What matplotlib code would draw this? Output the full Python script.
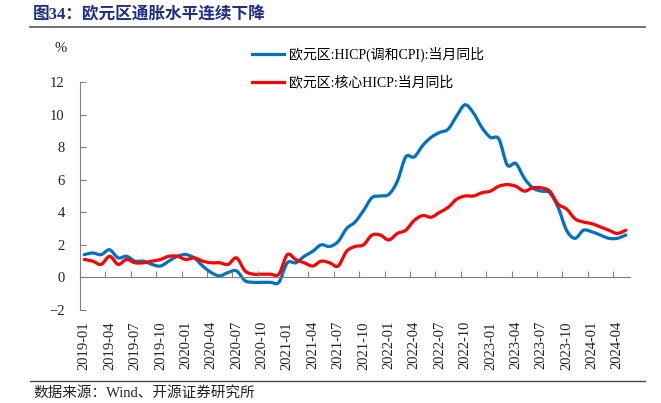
import matplotlib
matplotlib.use('Agg')
import matplotlib.pyplot as plt
from matplotlib.lines import Line2D
from matplotlib.path import Path
from matplotlib.patches import PathPatch
import pandas as pd

# monthly data, 2019-01 .. 2024-05
months = pd.date_range('2019-01-01', periods=65, freq='MS').strftime('%Y-%m').tolist()

hicp = [1.4, 1.5, 1.4, 1.7, 1.2, 1.3, 1.0, 1.0, 0.8, 0.7, 1.0, 1.3,
        1.4, 1.2, 0.7, 0.3, 0.1, 0.3, 0.4, -0.2, -0.3, -0.3, -0.3, -0.3,
        0.9, 0.9, 1.3, 1.6, 2.0, 1.9, 2.2, 3.0, 3.4, 4.1, 4.9, 5.0,
        5.1, 5.9, 7.4, 7.4, 8.1, 8.6, 8.9, 9.1, 9.9, 10.6, 10.1, 9.2,
        8.6, 8.5, 6.9, 7.0, 6.1, 5.5, 5.3, 5.2, 4.3, 2.9, 2.4, 2.9,
        2.8, 2.6, 2.4, 2.4, 2.6]

core = [1.1, 1.0, 0.8, 1.3, 0.8, 1.1, 0.9, 0.9, 1.0, 1.1, 1.3, 1.3,
        1.1, 1.2, 1.0, 0.9, 0.9, 0.8, 1.2, 0.4, 0.2, 0.2, 0.2, 0.2,
        1.4, 1.1, 0.9, 0.7, 1.0, 0.9, 0.7, 1.6, 1.9, 2.0, 2.6, 2.6,
        2.3, 2.7, 2.9, 3.5, 3.8, 3.7, 4.0, 4.3, 4.8, 5.0, 5.0, 5.2,
        5.3, 5.6, 5.7, 5.6, 5.3, 5.5, 5.5, 5.3, 4.5, 4.2, 3.6, 3.4,
        3.3, 3.1, 2.9, 2.7, 2.9]

series_names = ['欧元区:HICP(调和CPI):当月同比', '欧元区:核心HICP:当月同比']
series_colors = ['#0070C0', '#FF0000']
y_ticks = [-2, 0, 2, 4, 6, 8, 10, 12]

FONT = ['Liberation Serif', 'Noto Sans CJK SC']
plt.rcParams['font.family'] = FONT


def smooth_path(xs, ys):
    """Excel-style smoothed line: cubic bezier through every point."""
    pts = list(zip(xs, ys))
    verts = [pts[0]]
    codes = [Path.MOVETO]
    n = len(pts)
    for i in range(n - 1):
        p0 = pts[max(i - 1, 0)]
        p1 = pts[i]
        p2 = pts[i + 1]
        p3 = pts[min(i + 2, n - 1)]
        c1 = (p1[0] + (p2[0] - p0[0]) / 6, p1[1] + (p2[1] - p0[1]) / 6)
        c2 = (p2[0] - (p3[0] - p1[0]) / 6, p2[1] - (p3[1] - p1[1]) / 6)
        verts += [c1, c2, p2]
        codes += [Path.CURVE4] * 3
    return Path(verts, codes)


W, H = 661, 403
fig = plt.figure(figsize=(W / 100, H / 100), dpi=100)
ax = fig.add_axes([80 / W, 1 - 310 / H, 550 / W, 228 / H])

x = list(range(len(months)))
handles = []
for vals, name, col in zip([hicp, core], series_names, series_colors):
    ax.add_patch(PathPatch(smooth_path(x, vals), fill=False, edgecolor=col,
                           lw=2.3, joinstyle='round', capstyle='round'))
    handles.append(Line2D([], [], color=col, lw=2.3, label=name))

ax.set_xlim(-0.5, len(months) - 0.5)
ax.set_ylim(-2, 12)
ax.set_yticks(y_ticks)
ax.tick_params(axis='y', direction='in', length=4, pad=11, labelsize=10.5,
               color='#808080', labelcolor='#222222')

for s in ['top', 'right']:
    ax.spines[s].set_visible(False)
ax.spines['left'].set_color('#808080')
ax.spines['bottom'].set_color('#808080')
ax.spines['bottom'].set_position(('data', 0))

# tick marks on the zero line, between category groups
ax.set_xticks([i - 0.5 for i in range(0, len(months) - 1, 3)])
ax.tick_params(axis='x', direction='in', length=4, color='#808080',
               labelbottom=False)

# category labels at the bottom of the plot
lab = ax.secondary_xaxis('bottom')
lab.set_xticks(x[::3])
lab.set_xticklabels(months[::3], rotation=90)
lab.spines['bottom'].set_visible(False)
lab.tick_params(length=0, pad=8, labelsize=10.5, labelcolor='#222222')

ax.legend(handles=handles, loc='upper left', bbox_to_anchor=(252 / W, 1 - 47 / H),
          bbox_transform=fig.transFigure, frameon=False, fontsize=10,
          handlelength=2.3, handletextpad=0.4, labelspacing=1.0,
          borderpad=0, borderaxespad=0)

fig.text(61 / W, 1 - 48 / H, '%', ha='center', va='center', fontsize=10.5,
         color='#222222')

# header and footer
fig.text(33 / W, 1 - 15 / H, '图34：欧元区通胀水平连续下降', ha='left', va='center',
         fontsize=12, fontweight='bold', color='#1F2F86')
fig.add_artist(Line2D([30 / W, 645 / W], [1 - 27 / H] * 2, color='#666666', lw=1.3))
fig.add_artist(Line2D([30 / W, 645 / W], [1 - 381 / H] * 2, color='#444444', lw=1.0))
fig.text(33 / W, 1 - 393 / H, '数据来源：Wind、开源证券研究所', ha='left', va='center',
         fontsize=10.5, color='#222222')

fig.savefig('out.png', dpi=100)
